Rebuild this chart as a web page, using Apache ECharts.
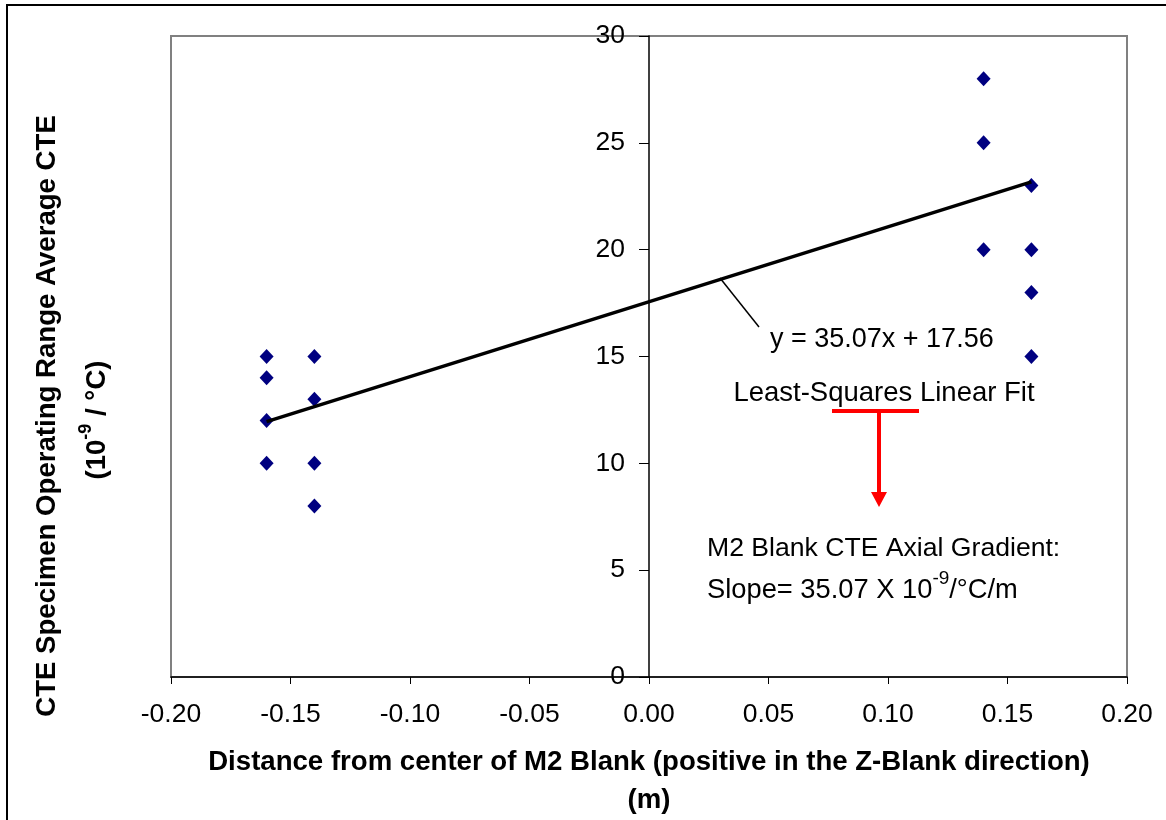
<!DOCTYPE html>
<html>
<head>
<meta charset="utf-8">
<script src="https://cdn.jsdelivr.net/npm/echarts@6/dist/echarts.min.js"></script>
<style>
html,body{margin:0;padding:0;background:#fff;}
#chart{width:1166px;height:820px;}
</style>
</head>
<body>
<div id="chart"></div>
<script>
// measured points (distance m, CTE 1e-9/°C)
var ptX = [-0.16, -0.16, -0.16, -0.16, -0.14, -0.14, -0.14, -0.14, 0.14, 0.14, 0.14, 0.16, 0.16, 0.16, 0.16];
var ptY = [15, 14, 12, 10, 15, 13, 10, 8, 28, 25, 20, 23, 20, 18, 15];
// least-squares fit end points
var fitX = [-0.16, 0.16];
var fitY = [11.95, 23.17];

var font = 'Liberation Sans, Arial, sans-serif';

function pairs(xs, ys) {
    var out = [];
    for (var i = 0; i < xs.length; i++) out.push([xs[i], ys[i]]);
    return out;
}

var chart = echarts.init(document.getElementById('chart'));
var option = {
    backgroundColor: '#fff',
    animation: false,
    grid: {left: 171, right: 39, top: 36, bottom: 143, show: true, borderColor: '#808080', borderWidth: 2},
    xAxis: {
        type: 'value', min: -0.2, max: 0.2, interval: 0.05,
        axisLine: {onZero: false, lineStyle: {color: '#000', width: 1.5}},
        axisTick: {inside: false, length: 7, lineStyle: {color: '#000'}},
        axisLabel: {color: '#000', fontFamily: font, fontSize: 26.5, margin: 24,
            formatter: function (v) { return v.toFixed(2); }},
        splitLine: {show: false}
    },
    yAxis: {
        type: 'value', min: 0, max: 30, interval: 5,
        position: 'left', offset: -478,   // sits on x = 0
        axisLine: {onZero: false, lineStyle: {color: '#000', width: 1.5}},
        axisTick: {inside: false, length: 10, lineStyle: {color: '#000'}},
        axisLabel: {color: '#000', fontFamily: font, fontSize: 26.5, margin: 24},
        splitLine: {show: false}
    },
    series: [
        {
            type: 'scatter', data: pairs(ptX, ptY), symbol: 'diamond', symbolSize: [14, 15],
            itemStyle: {color: '#000080', opacity: 1}, z: 2
        },
        {
            type: 'line', data: pairs(fitX, fitY), showSymbol: false,
            lineStyle: {color: '#000', width: 3.5}, z: 3
        }
    ],
    graphic: [
        {type: 'rect', shape: {x: 7, y: 5, width: 1180, height: 840}, style: {fill: null, stroke: '#000', lineWidth: 2}, silent: true},
        // axis titles
        {type: 'text', x: 649, y: 762, style: {text: 'Distance from center of M2 Blank (positive in the Z-Blank direction)',
            font: 'bold 27.6px ' + font, fill: '#000', align: 'center', verticalAlign: 'middle'}},
        {type: 'text', x: 649, y: 800, style: {text: '(m)', font: 'bold 27.6px ' + font, fill: '#000', align: 'center', verticalAlign: 'middle'}},
        {type: 'text', x: 47, y: 416, rotation: Math.PI / 2, style: {text: 'CTE Specimen Operating Range Average CTE',
            font: 'bold 27.6px ' + font, fill: '#000', align: 'center', verticalAlign: 'middle'}},
        {type: 'text', x: 96, y: 420, rotation: Math.PI / 2, style: {
            text: '{b|(10}{s|-9}{b| / °C)}', align: 'center', verticalAlign: 'middle', fill: '#000',
            rich: {
                b: {font: 'bold 27.6px ' + font, fill: '#000', lineHeight: 30, verticalAlign: 'bottom'},
                s: {font: 'bold 18px ' + font, fill: '#000', lineHeight: 30, verticalAlign: 'top', padding: [-4, 0, 0, 0]}
            }}},
        // fit annotation
        {type: 'line', shape: {x1: 720, y1: 278, x2: 759, y2: 327}, style: {stroke: '#000', lineWidth: 1.5}},
        {type: 'text', x: 770, y: 340, style: {text: 'y = 35.07x + 17.56', font: '27px ' + font, fill: '#000', align: 'left', verticalAlign: 'middle'}},
        {type: 'text', x: 884, y: 393, style: {text: 'Least-Squares Linear Fit', font: '27.5px ' + font, fill: '#000', align: 'center', verticalAlign: 'middle'}},
        // red arrow
        {type: 'line', shape: {x1: 832, y1: 411, x2: 919, y2: 411}, style: {stroke: '#ff0000', lineWidth: 4}},
        {type: 'line', shape: {x1: 879, y1: 411, x2: 879, y2: 494}, style: {stroke: '#ff0000', lineWidth: 4}},
        {type: 'polygon', shape: {points: [[871, 492], [887, 492], [879, 507]]}, style: {fill: '#ff0000'}},
        {type: 'text', x: 707, y: 549, style: {text: 'M2 Blank CTE Axial Gradient:', font: '26.6px ' + font, fill: '#000', align: 'left', verticalAlign: 'middle'}},
        {type: 'text', x: 707, y: 589, style: {
            text: '{a|Slope= 35.07 X 10}{s|-9}{a|/°C/m}', align: 'left', verticalAlign: 'middle', fill: '#000',
            rich: {
                a: {font: '27.3px ' + font, fill: '#000', lineHeight: 30, verticalAlign: 'bottom'},
                s: {font: '19px ' + font, fill: '#000', lineHeight: 30, verticalAlign: 'top', padding: [-5, 0, 0, 0]}
            }}}
    ]
};
chart.setOption(option);
</script>
</body>
</html>
